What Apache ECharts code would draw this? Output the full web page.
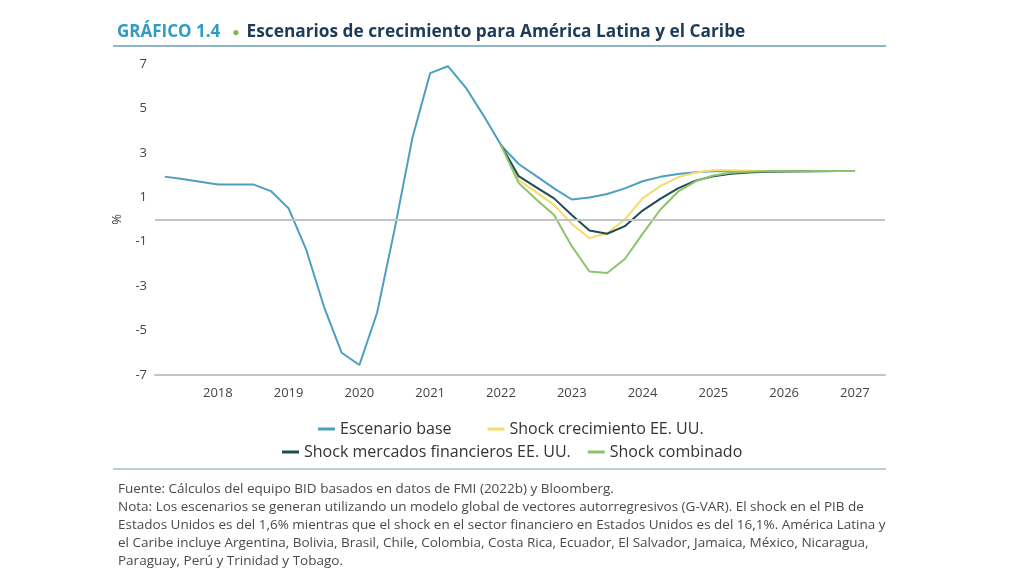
<!DOCTYPE html>
<html>
<head>
<meta charset="utf-8">
<script src="https://cdn.jsdelivr.net/npm/echarts@6/dist/echarts.min.js"></script>
<style>
  html, body { margin: 0; padding: 0; background: #fff; }
  #chart { width: 1024px; height: 576px; }
</style>
</head>
<body>
<div id="chart"></div>
<script>
// trimestres 2018T1 .. 2027T4 (índice 0..39)
var yearLabels = ['2018', '2019', '2020', '2021', '2022', '2023', '2024', '2025', '2026', '2027'];
var yearLabelPos = [3, 7, 11, 15, 19, 23, 27, 31, 35, 39];
var yTicks = [-7, -5, -3, -1, 1, 3, 5, 7];

var seriesNames = ['Escenario base', 'Shock crecimiento EE. UU.', 'Shock mercados financieros EE. UU.', 'Shock combinado'];

var escenarioBase = [
  1.93, 1.82, 1.70, 1.58, 1.58, 1.58, 1.28, 0.50, -1.37, -3.93,
  -6.00, -6.55, -4.20, -0.40, 3.69, 6.59, 6.90, 5.95, 4.70, 3.35,
  2.50, 1.95, 1.40, 0.90, 0.99, 1.15, 1.40, 1.72, 1.92, 2.05,
  2.13, 2.17, 2.18, 2.17, 2.17, 2.17, 2.17, 2.18, 2.18, 2.18
];
var shockCrecimiento = [
  null, null, null, null, null, null, null, null, null, null,
  null, null, null, null, null, null, null, null, null, 3.35,
  1.78, 1.22, 0.66, -0.20, -0.84, -0.62, 0.00, 0.95, 1.50, 1.90,
  2.12, 2.22, 2.22, 2.20, 2.18, 2.17, 2.17, 2.18, 2.18, 2.18
];
var shockMercados = [
  null, null, null, null, null, null, null, null, null, null,
  null, null, null, null, null, null, null, null, null, 3.35,
  1.95, 1.45, 0.95, 0.20, -0.50, -0.64, -0.30, 0.40, 0.93, 1.40,
  1.75, 1.95, 2.06, 2.12, 2.15, 2.16, 2.17, 2.17, 2.18, 2.18
];
var shockCombinado = [
  null, null, null, null, null, null, null, null, null, null,
  null, null, null, null, null, null, null, null, null, 3.35,
  1.64, 0.90, 0.20, -1.20, -2.34, -2.41, -1.78, -0.65, 0.44, 1.25,
  1.72, 1.98, 2.10, 2.15, 2.17, 2.17, 2.17, 2.18, 2.18, 2.18
];

var colors = ['#4d9fc0', '#f3dc6a', '#1f4b55', '#8cc46c'];

var fuente = 'Fuente: Cálculos del equipo BID basados en datos de FMI (2022b) y Bloomberg.\n' +
  'Nota: Los escenarios se generan utilizando un modelo global de vectores autorregresivos (G-VAR). El shock en el PIB de\n' +
  'Estados Unidos es del 1,6% mientras que el shock en el sector financiero en Estados Unidos es del 16,1%. América Latina y\n' +
  'el Caribe incluye Argentina, Bolivia, Brasil, Chile, Colombia, Costa Rica, Ecuador, El Salvador, Jamaica, México, Nicaragua,\n' +
  'Paraguay, Perú y Trinidad y Tobago.';

function toPoints(arr) {
  var out = [];
  arr.forEach(function (v, i) {
    if (v !== null) out.push([i, v]);
  });
  return out;
}

var font = "'Open Sans', 'Noto Sans', sans-serif";
var chart = echarts.init(document.getElementById('chart'), null, { renderer: 'canvas' });

var option = {
  animation: false,
  backgroundColor: '#fff',
  color: colors,
  title: [
    {
      text: '{a|GRÁFICO 1.4}{d|●}{b|Escenarios de crecimiento para América Latina y el Caribe}',
      left: 112,
      top: 19,
      textStyle: {
        rich: {
          a: { fontFamily: font, fontSize: 17, fontWeight: 'bold', color: '#2f9cc3' },
          d: { fontFamily: font, fontSize: 12, color: '#7ab648', padding: [0, 7, 0, 12] },
          b: { fontFamily: font, fontSize: 17.3, fontWeight: 'bold', color: '#1d3a56' }
        }
      }
    },
    {
      text: fuente,
      left: 113,
      top: 475,
      textStyle: { fontFamily: font, fontSize: 13.5, fontWeight: 'normal', color: '#4a4a4a', lineHeight: 18 }
    }
  ],
  graphic: [
    { type: 'line', shape: { x1: 113, y1: 46, x2: 886, y2: 46 }, style: { stroke: '#8fb6c4', lineWidth: 2 } },
    { type: 'line', shape: { x1: 113, y1: 469, x2: 886, y2: 469 }, style: { stroke: '#b9cfd5', lineWidth: 2 } }
  ],
  legend: [
    {
      data: [seriesNames[0], seriesNames[1]],
      left: 313,
      top: 416,
      icon: 'rect',
      itemWidth: 17,
      itemHeight: 3,
      itemGap: 36,
      textStyle: { fontFamily: font, fontSize: 16, color: '#333' }
    },
    {
      data: [seriesNames[2], seriesNames[3]],
      left: 277,
      top: 439,
      icon: 'rect',
      itemWidth: 17,
      itemHeight: 3,
      itemGap: 17,
      textStyle: { fontFamily: font, fontSize: 16, color: '#333' }
    }
  ],
  grid: { left: 155, right: 139, top: 64, bottom: 201 },
  xAxis: {
    type: 'value',
    min: -0.55,
    max: 40.7,
    splitLine: { show: false },
    axisTick: { show: false },
    axisLine: { show: true, onZero: false, lineStyle: { color: '#c4c4c4', width: 2 } },
    axisLabel: {
      customValues: yearLabelPos,
      margin: 12,
      fontFamily: font,
      fontSize: 13,
      color: '#444',
      formatter: function (v) {
        var k = yearLabelPos.indexOf(Math.round(v));
        return k >= 0 ? yearLabels[k] : '';
      }
    }
  },
  yAxis: {
    type: 'value',
    min: -7,
    max: 7,
    name: '%',
    nameLocation: 'middle',
    nameRotate: 90,
    nameGap: 31,
    nameTextStyle: { fontFamily: font, fontSize: 13, color: '#444' },
    splitLine: { show: false },
    axisTick: { show: false },
    axisLine: { show: false },
    axisLabel: {
      customValues: yTicks,
      margin: 8,
      fontFamily: font,
      fontSize: 13,
      color: '#444'
    }
  },
  series: [
    {
      name: seriesNames[0],
      type: 'line',
      data: toPoints(escenarioBase),
      showSymbol: false,
      lineStyle: { width: 2 },
      markLine: {
        silent: true,
        symbol: 'none',
        label: { show: false },
        lineStyle: { color: '#c4c4c4', width: 2, type: 'solid' },
        data: [{ yAxis: 0 }]
      }
    },
    {
      name: seriesNames[1],
      type: 'line',
      data: toPoints(shockCrecimiento),
      showSymbol: false,
      lineStyle: { width: 2 }
    },
    {
      name: seriesNames[2],
      type: 'line',
      data: toPoints(shockMercados),
      showSymbol: false,
      lineStyle: { width: 2 }
    },
    {
      name: seriesNames[3],
      type: 'line',
      data: toPoints(shockCombinado),
      showSymbol: false,
      lineStyle: { width: 2 }
    }
  ]
};

chart.setOption(option);
</script>
</body>
</html>
